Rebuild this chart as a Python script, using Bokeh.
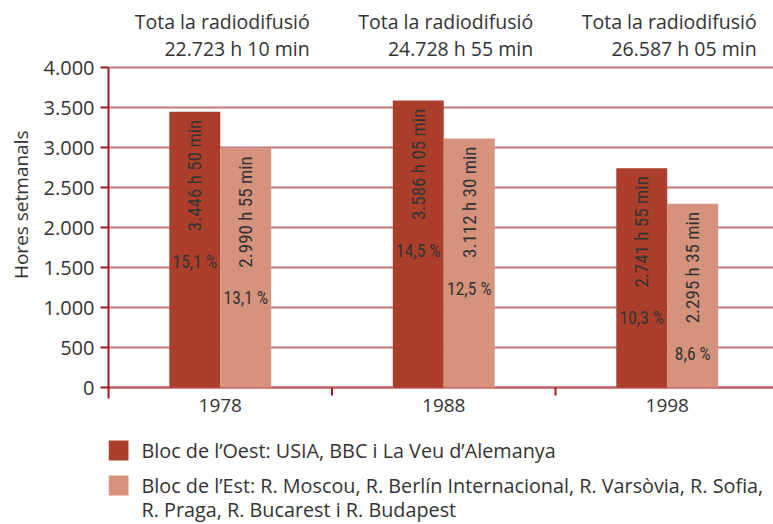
import numpy as np
from bokeh.plotting import figure
from bokeh.models import Range1d, FixedTicker, Title
from bokeh.core.properties import value
from bokeh.embed import file_html
from bokeh.resources import INLINE

# ---- data ----
years = ["1978", "1988", "1998"]
west_hours = [3446 + 50 / 60, 3586 + 5 / 60, 2741 + 55 / 60]
east_hours = [2990 + 55 / 60, 3112 + 30 / 60, 2295 + 35 / 60]
west_text = ["3.446 h 50 min", "3.586 h 05 min", "2.741 h 55 min"]
east_text = ["2.990 h 55 min", "3.112 h 30 min", "2.295 h 35 min"]
west_pct = ["15,1 %", "14,5 %", "10,3 %"]
east_pct = ["13,1 %", "12,5 %", "8,6 %"]
total_title = "Tota la radiodifusió"
total_text = ["22.723 h 10 min", "24.728 h 55 min", "26.587 h 05 min"]
y_ticks = [0, 500, 1000, 1500, 2000, 2500, 3000, 3500, 4000]
y_axis_title = "Hores setmanals"
legend_lines = [
    "Bloc de l\u2019Oest: USIA, BBC i La Veu d\u2019Alemanya",
    "Bloc de l\u2019Est: R. Moscou, R. Berlín Internacional, R. Varsòvia, R. Sofia,",
    "R. Praga, R. Bucarest i R. Budapest",
]

# ---- style ----
DARK = "#ab3f2b"
LIGHT = "#d5927c"
GRID = "#c9767c"
AXIS = "#a3161f"
ZERO = "#c0555b"
TXT = "#333333"
FONT = "Open Sans"
NARROW = "Roboto Condensed"

# ---- layout helpers (page pixels -> data coordinates) ----
W, H = 773, 524
FRAME_LEFT = 108          # page x of the y axis
CAT_W = 223.5             # pixels per category
Y_TOP_PX, Y0_PX = 67, 387  # page y of 4000 and of 0
y_top = max(y_ticks)
px = y_top / (Y0_PX - Y_TOP_PX)  # data units per pixel


def dx(X):
    return (X - FRAME_LEFT) / CAT_W


def dy(Y):
    return -(Y - Y0_PX) * px


n = len(years)
centers = np.arange(n) + 0.5
seps = np.arange(1, n)
bw = 0.228

p = figure(width=W, height=H, output_backend="svg", toolbar_location=None,
           x_axis_type=None,
           x_range=Range1d(dx(FRAME_LEFT), dx(W)),
           y_range=Range1d(dy(H), dy(0)),
           min_border_left=FRAME_LEFT, min_border_right=0, min_border_top=0, min_border_bottom=0)
p.outline_line_color = None
p.background_fill_color = "white"
p.border_fill_color = "white"
p.xgrid.visible = False

p.yaxis.ticker = FixedTicker(ticks=y_ticks)
p.yaxis.bounds = (dy(Y0_PX + 11), y_top)
p.yaxis.major_label_overrides = {t: f"{t:,}".replace(",", ".") for t in y_ticks}
p.yaxis.axis_line_color = AXIS
p.yaxis.axis_line_width = 2
p.yaxis.major_tick_line_color = AXIS
p.yaxis.major_tick_line_width = 2
p.yaxis.major_tick_in = 0
p.yaxis.major_tick_out = 8
p.yaxis.minor_tick_line_color = None
p.yaxis.major_label_text_font = FONT
p.yaxis.major_label_text_font_size = "20px"
p.yaxis.major_label_text_color = TXT
p.yaxis.major_label_standoff = 6

p.add_layout(Title(text=y_axis_title, align="right", offset=130, vertical_align="top",
                   standoff=9, text_font=FONT, text_font_size="19px",
                   text_font_style="normal", text_color=TXT), "left")

p.ygrid.grid_line_color = GRID
p.ygrid.grid_line_width = 2

# zero line and category separator ticks
p.hspan(y=[0], line_color=ZERO, line_width=2)
p.segment(x0=seps, y0=0, x1=seps, y1=-8 * px, line_color=AXIS, line_width=2)

# bars
p.vbar(x=centers - bw / 2, top=west_hours, width=bw, bottom=0, fill_color=DARK, line_color=None)
p.vbar(x=centers + bw / 2, top=east_hours, width=bw, bottom=0, fill_color=LIGHT, line_color=None)

# year labels
p.text(x=centers, y=[dy(405)] * n, text=years, text_align="center", text_baseline="middle",
       text_font=value(FONT), text_font_size="19px", text_color=TXT)

# vertical labels in bars
p.text(x=centers - bw / 2, y=np.array(west_hours) - 8 * px, text=west_text, angle=np.pi / 2,
       text_align="right", text_baseline="middle", text_font=value(NARROW),
       text_font_size="19px", text_color=TXT)
p.text(x=centers + bw / 2, y=np.array(east_hours) - 8 * px, text=east_text, angle=np.pi / 2,
       text_align="right", text_baseline="middle", text_font=value(NARROW),
       text_font_size="19px", text_color=TXT)

# percentage labels
p.text(x=centers - bw / 2, y=np.array(west_hours) - 150 * px, text=west_pct,
       text_align="center", text_baseline="middle", text_font=value(NARROW),
       text_font_size="17.5px", text_color=TXT)
p.text(x=centers + bw / 2, y=np.array(east_hours) - 150 * px, text=east_pct,
       text_align="center", text_baseline="middle", text_font=value(NARROW),
       text_font_size="17.5px", text_color=TXT)

# totals above the plot area
p.text(x=centers + 0.40, y=[dy(21)] * n, text=[total_title] * n,
       text_align="right", text_baseline="middle", text_font=value(FONT),
       text_font_size="19.5px", text_color=TXT)
p.text(x=centers + 0.40, y=[dy(48)] * n, text=total_text,
       text_align="right", text_baseline="middle", text_font=value(FONT),
       text_font_size="19.5px", text_color=TXT)

# legend
p.rect(x=[dx(118)] * 2, y=[dy(450), dy(485)], width=20, height=20,
       width_units="screen", height_units="screen",
       fill_color=[DARK, LIGHT], line_color=None)
p.text(x=[dx(141)] * 3, y=[dy(450), dy(485), dy(509)], text=legend_lines,
       text_baseline="middle", text_align="left", text_font=value(FONT),
       text_font_size="19.8px", text_color=TXT)

open("out.html", "w").write(file_html(p, INLINE))
